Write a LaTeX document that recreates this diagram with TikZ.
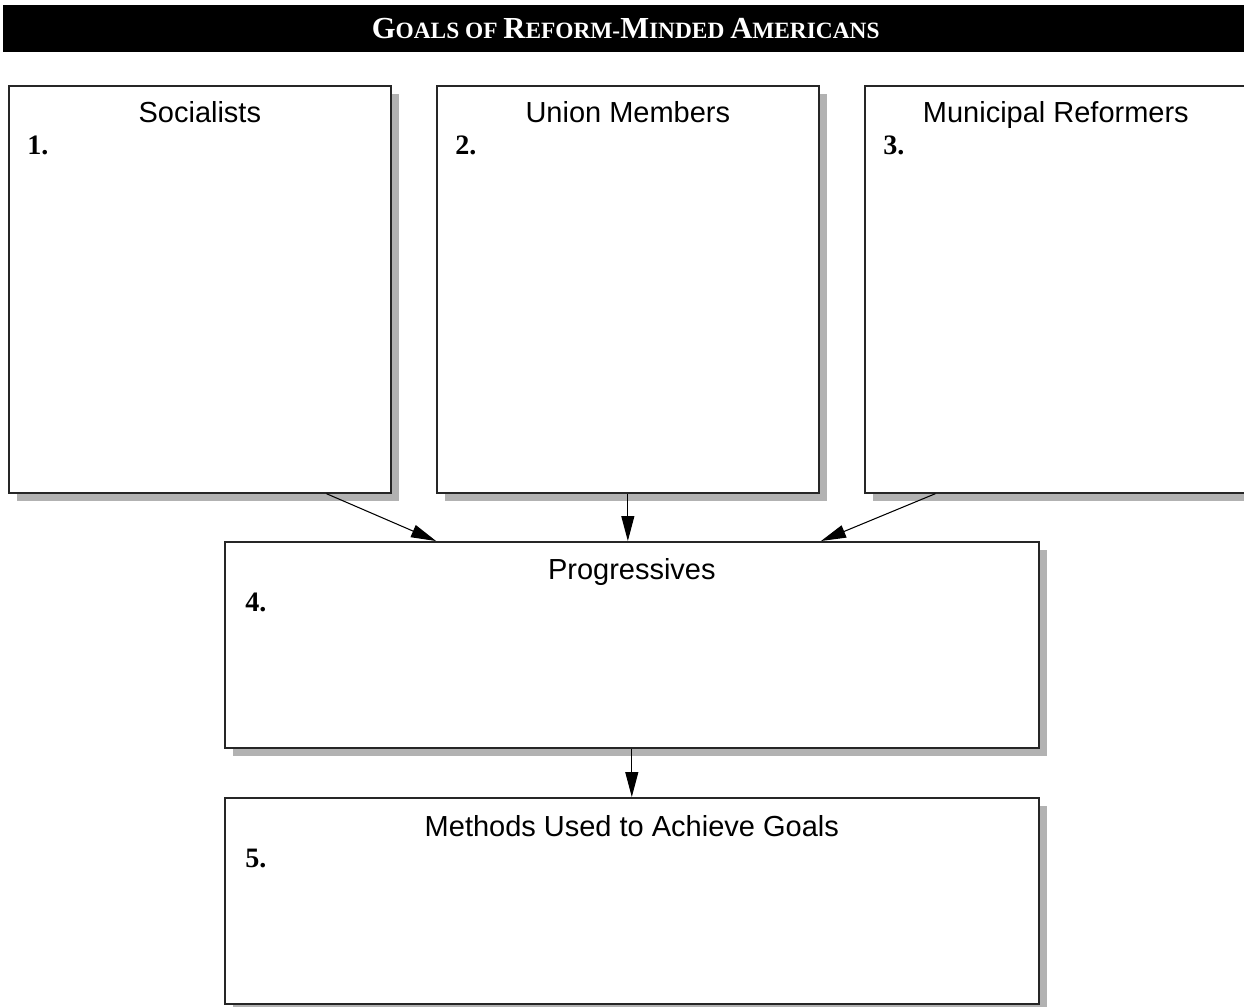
\documentclass[tikz,border=0pt]{standalone}
\usepackage{fontspec}
\setmainfont{Liberation Serif}
\setsansfont{Liberation Sans}
\usetikzlibrary{positioning,shadows,arrows.meta,calc}

\begin{document}
\begin{tikzpicture}[x=0.02cm,y=-0.02cm,>={Triangle[length=0.5cm,width=0.26cm]}]
        \tikzstyle{box}=[rectangle,draw=black!85,line width=1pt,fill=white,inner sep=0pt,anchor=north west,
                drop shadow={shadow xshift=0.16cm,shadow yshift=-0.16cm,fill=black!30,opacity=1}]
        \tikzstyle{head}=[font=\sffamily\fontsize{16.5}{20}\selectfont,inner sep=0pt,anchor=base]
        \tikzstyle{num}=[font=\bfseries\fontsize{16}{19}\selectfont,inner sep=0pt,anchor=base west]
        \tikzstyle{link}=[->,line width=0.6pt]
        \clip (0,0) rectangle (1244,1007);

        % title bar
        \node[fill=black,text=white,anchor=north west,minimum width=24.9cm,minimum height=0.94cm,inner sep=0pt,
                font=\bfseries] (title) at (3,5)
                {{\fontsize{17.4}{20}\selectfont G}{\fontsize{13.3}{20}\selectfont OALS OF }%
                 {\fontsize{17.4}{20}\selectfont R}{\fontsize{13.3}{20}\selectfont EFORM-}%
                 {\fontsize{17.4}{20}\selectfont M}{\fontsize{13.3}{20}\selectfont INDED }%
                 {\fontsize{17.4}{20}\selectfont A}{\fontsize{13.3}{20}\selectfont MERICANS}};

        % top row
        \foreach \name/\x/\n/\txt in {soc/8/1/Socialists, union/436/2/Union Members, muni/864/3/Municipal Reformers}{
                \node[box,minimum width=7.64cm,minimum height=8.14cm] (\name) at (\x,85) {};
                \node[head] (\name-t) at ([yshift=-0.76cm]\name.north) {\txt};
                \node[num] (\name-n) at ([xshift=0.38cm,yshift=-1.4cm]\name.north west) {\n.};
        }

        % lower boxes
        \node[box,minimum width=16.28cm,minimum height=4.12cm] (prog) at (224,541) {};
        \node[head] (prog-t) at ([yshift=-0.78cm]prog.north) {Progressives};
        \node[num] (prog-n) at ([xshift=0.42cm,yshift=-1.42cm]prog.north west) {4.};

        \node[box,minimum width=16.28cm,minimum height=4.12cm] (meth) at (224,797) {};
        \node[head] (meth-t) at ([yshift=-0.78cm]meth.north) {Methods Used to Achieve Goals};
        \node[num] (meth-n) at ([xshift=0.42cm,yshift=-1.42cm]meth.north west) {5.};

        % arrows
        \draw[link] ($(soc.south west)!0.83!(soc.south east)$) -- ($(prog.north west)!0.26!(prog.north east)$);
        \draw[link] (union.south) -- (union.south |- prog.north);
        \draw[link] ($(muni.south west)!0.186!(muni.south east)$) -- ($(prog.north west)!0.732!(prog.north east)$);
        \draw[link] (prog.south) -- (meth.north);
\end{tikzpicture}
\end{document}
